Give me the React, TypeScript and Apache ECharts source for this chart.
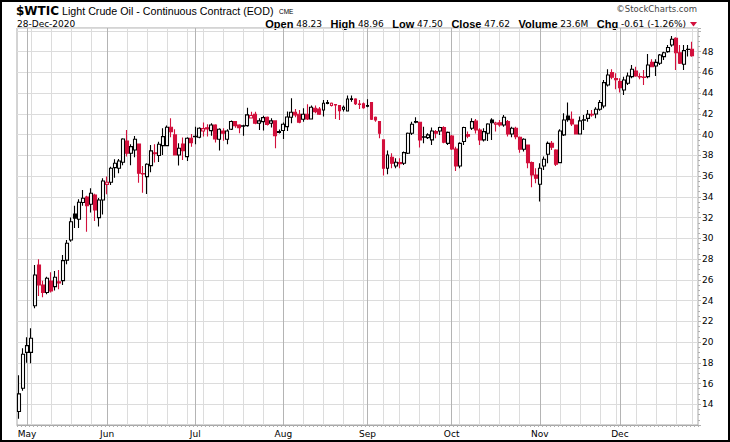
import React, { useEffect, useRef } from "react";
import * as echarts from "echarts";

// ---- calendar ----
const START_DATE = "2020-04-29";
const END_DATE = "2020-12-28";
const HOLIDAYS = ["2020-05-25", "2020-07-03", "2020-09-07", "2020-11-26", "2020-12-25"];
const MONTHS = ["Jan", "Feb", "Mar", "Apr", "May", "Jun", "Jul", "Aug", "Sep", "Oct", "Nov", "Dec"];

// ---- daily OHLC ----
const OPEN = [
  13.3, 15.54, 19.0, 19.0, 23.5, 27.43, 25.5, 24.77, 25.89, 25.34,
  25.8, 25.92, 27.9, 29.84, 32.35, 31.84, 33.45, 33.99, 33.29, 34.18,
  32.0, 33.7, 35.2, 35.4, 36.82, 36.76, 37.33, 39.39, 38.2, 38.52,
  39.1, 36.2, 35.95, 37.01, 38.15, 37.98, 38.94, 38.94, 40.71, 39.97,
  38.04, 39.1, 37.88, 39.65, 39.8, 39.75, 40.35, 40.65, 40.38, 40.93,
  39.55, 40.35, 39.55, 40.52, 41.26, 40.93, 40.8, 40.87, 41.6, 41.95,
  41.09, 41.25, 41.67, 41.09, 41.32, 40.2, 40.39, 40.77, 41.67, 42.15,
  41.96, 41.48, 41.96, 41.51, 42.54, 42.47, 42.38, 43.0, 42.8, 42.9,
  42.8, 42.44, 42.28, 43.4, 43.44, 42.95, 42.96, 42.75, 43.09, 41.67,
  41.25, 39.49, 36.75, 37.82, 36.98, 37.3, 37.24, 38.2, 40.13, 41.2,
  41.19, 39.75, 39.71, 39.49, 40.29, 40.35, 40.68, 39.16, 39.87, 38.62,
  36.98, 39.33, 40.0, 40.61, 41.3, 40.45, 39.49, 40.13, 41.41, 41.0,
  41.15, 40.93, 41.25, 40.06, 40.61, 39.74, 38.59, 39.0, 37.3, 36.11,
  35.21, 36.98, 38.1, 39.16, 38.52, 37.3, 39.97, 41.8, 41.48, 40.93,
  40.06, 41.38, 41.57, 41.95, 41.99, 42.44, 42.76, 44.79, 45.98, 45.4,
  45.11, 44.3, 44.95, 45.59, 46.14, 45.6, 45.55, 45.59, 46.97, 46.62,
  46.88, 47.52, 48.0, 48.64, 49.29, 47.9, 46.78, 48.2, 48.23,
];
const HIGH = [
  16.8, 19.4, 20.46, 21.33, 27.43, 27.98, 25.9, 26.3, 26.73, 26.86,
  26.95, 28.4, 29.84, 32.0, 33.15, 33.77, 34.66, 34.1, 34.83, 34.3,
  33.9, 35.79, 35.95, 36.9, 37.63, 37.66, 39.65, 40.45, 39.07, 39.87,
  39.15, 36.98, 37.25, 39.0, 39.07, 39.3, 40.61, 40.87, 41.58, 40.52,
  39.17, 39.71, 39.75, 40.07, 40.77, 40.7, 41.16, 41.0, 41.1, 41.0,
  40.61, 40.61, 40.52, 41.35, 41.3, 41.0, 40.95, 42.6, 42.2, 42.2,
  41.58, 41.83, 41.74, 41.58, 41.35, 40.5, 41.16, 42.22, 43.5, 42.47,
  42.38, 42.54, 42.93, 42.8, 42.8, 42.67, 43.34, 43.34, 43.1, 42.95,
  42.86, 42.8, 43.76, 43.76, 43.5, 43.34, 43.1, 43.4, 43.1, 41.74,
  41.3, 39.5, 38.46, 38.2, 37.72, 37.72, 38.36, 40.2, 41.25, 41.67,
  41.25, 40.77, 40.13, 40.68, 40.45, 40.77, 40.8, 40.3, 39.97, 38.84,
  39.26, 40.77, 40.29, 41.58, 41.5, 40.61, 40.61, 41.09, 41.57, 41.25,
  41.41, 41.9, 41.41, 40.77, 40.77, 39.81, 39.65, 39.05, 37.4, 36.75,
  37.24, 37.88, 39.33, 39.39, 38.59, 40.51, 42.06, 43.09, 42.22, 40.95,
  41.74, 41.9, 42.38, 42.38, 42.64, 43.34, 45.27, 46.3, 46.3, 45.91,
  45.43, 45.59, 45.98, 46.71, 46.55, 45.91, 46.23, 47.78, 47.26, 47.26,
  47.78, 48.0, 48.64, 49.51, 49.38, 48.64, 48.64, 48.64, 48.96,
];
const LOW = [
  12.6, 15.3, 18.0, 17.95, 23.26, 24.44, 24.32, 24.6, 24.77, 24.96,
  25.1, 25.5, 27.5, 29.68, 31.0, 31.0, 33.15, 30.64, 32.5, 31.68,
  31.13, 32.3, 34.25, 35.15, 35.85, 36.27, 37.04, 37.88, 37.04, 37.82,
  35.37, 34.4, 34.28, 36.37, 37.3, 37.36, 38.04, 38.9, 39.75, 38.0,
  37.01, 37.56, 37.46, 38.84, 39.07, 39.65, 39.81, 39.81, 39.9, 39.23,
  38.46, 39.42, 39.07, 40.45, 40.67, 40.13, 39.9, 40.75, 41.55, 41.0,
  40.45, 40.39, 40.87, 40.68, 38.68, 40.1, 39.58, 40.35, 41.09, 41.67,
  41.09, 41.25, 41.42, 41.45, 42.06, 41.9, 41.74, 42.93, 42.7, 41.5,
  41.42, 42.22, 42.22, 43.18, 42.86, 42.48, 42.5, 42.64, 41.42, 41.25,
  39.65, 36.05, 36.18, 36.75, 36.75, 36.75, 37.08, 38.14, 39.97, 41.09,
  38.75, 39.16, 39.58, 39.0, 39.65, 39.97, 39.16, 39.0, 38.52, 36.5,
  36.75, 39.0, 39.65, 40.45, 40.1, 39.0, 39.33, 39.39, 39.49, 40.29,
  40.77, 40.77, 39.81, 39.74, 39.55, 38.26, 38.36, 36.75, 34.92, 35.31,
  33.54, 36.59, 37.24, 38.52, 36.98, 37.24, 39.87, 41.25, 40.84, 40.03,
  40.0, 40.45, 41.25, 41.73, 41.57, 42.3, 42.54, 44.63, 45.33, 44.37,
  44.05, 43.82, 44.79, 45.43, 45.59, 45.33, 44.79, 45.43, 46.49, 45.65,
  46.71, 47.2, 47.9, 48.48, 46.23, 46.81, 46.23, 47.52, 47.5,
];
const CLOSE = [
  15.0, 18.82, 19.65, 20.36, 26.47, 25.5, 24.77, 26.15, 24.93, 26.25,
  25.7, 27.85, 29.53, 31.6, 31.95, 33.48, 33.86, 33.15, 34.35, 32.74,
  33.7, 35.53, 35.4, 36.76, 37.24, 37.46, 39.58, 38.2, 38.84, 39.55,
  36.27, 36.25, 37.14, 38.43, 38.25, 39.07, 39.81, 40.71, 40.29, 38.04,
  38.68, 38.46, 39.65, 39.23, 39.84, 40.61, 40.58, 40.55, 40.93, 39.58,
  40.52, 40.13, 40.35, 41.26, 40.87, 40.67, 40.85, 41.9, 41.85, 41.1,
  41.32, 41.64, 40.99, 41.32, 39.9, 40.29, 41.0, 41.7, 42.15, 41.9,
  41.19, 41.96, 41.51, 42.64, 42.22, 41.96, 43.02, 43.1, 43.02, 42.85,
  42.31, 42.64, 43.44, 43.45, 42.99, 42.9, 42.6, 42.8, 41.48, 41.42,
  40.13, 36.75, 38.04, 37.24, 37.33, 37.2, 38.26, 40.13, 41.0, 41.25,
  39.49, 39.8, 39.97, 40.35, 40.13, 40.68, 39.26, 40.22, 38.62, 36.98,
  39.16, 40.68, 39.85, 41.25, 40.45, 39.49, 40.29, 41.03, 41.15, 41.12,
  40.93, 41.67, 40.06, 40.61, 39.81, 38.59, 39.55, 37.3, 36.11, 35.79,
  36.75, 37.62, 39.16, 38.78, 37.14, 40.35, 41.41, 41.45, 41.03, 40.06,
  41.32, 41.42, 41.96, 41.9, 42.44, 43.09, 45.01, 45.75, 45.53, 45.3,
  44.53, 45.27, 45.65, 46.3, 45.65, 45.55, 45.5, 46.71, 46.55, 46.97,
  47.68, 47.9, 48.4, 49.2, 47.9, 46.88, 48.1, 48.23, 47.62,
];
const LAST_VOLUME = "23.6M";

// ---- axis ----
const Y_MIN = 12;
const Y_MAX = 50.28;
const Y_STEP = 2;
const Y_LABELS = [14, 16, 18, 20, 22, 24, 26, 28, 30, 32, 34, 36, 38, 40, 42, 44, 46, 48];

const BLACK = "#000000";
const RED = "#d2103c";

function tradingDays(): string[] {
  const out: string[] = [];
  let t = Date.parse(START_DATE + "T00:00:00Z");
  const end = Date.parse(END_DATE + "T00:00:00Z");
  while (t <= end) {
    const d = new Date(t);
    const s = d.toISOString().slice(0, 10);
    const dow = d.getUTCDay();
    if (dow !== 0 && dow !== 6 && HOLIDAYS.indexOf(s) < 0) out.push(s);
    t += 86400000;
  }
  return out;
}

export default function App() {
  const ref = useRef<HTMLDivElement>(null);

  useEffect(() => {
    if (!ref.current) return;
    const chart = echarts.init(ref.current, null, { renderer: "svg" });

    const dates = tradingDays();
    const n = dates.length;
    const cats = [...dates, ""];
    const slots = cats.length;
    const weekStart = new Set<number>();
    const monthStart = new Set<number>();
    for (let i = 1; i < n; i++) {
      const a = new Date(dates[i - 1] + "T00:00:00Z");
      const b = new Date(dates[i] + "T00:00:00Z");
      if (b.getUTCDay() <= a.getUTCDay() || (b.getTime() - a.getTime()) / 86400000 >= 7) weekStart.add(i);
      if (b.getUTCMonth() !== a.getUTCMonth()) monthStart.add(i);
    }
    const half = Array.from({ length: slots * 2 + 1 }, (_, j) => String(j));

    const data = [];
    for (let i = 0; i < n; i++) {
      const o = OPEN[i], c = CLOSE[i], l = LOW[i], h = HIGH[i];
      const col = i === 0 || c >= CLOSE[i - 1] ? BLACK : RED;
      const hollow = c > o;
      data.push({
        value: [o, c, l, h],
        itemStyle: {
          color: hollow ? "#ffffff" : col,
          color0: hollow ? "#ffffff" : col,
          borderColor: col,
          borderColor0: col,
          borderColorDoji: col,
          borderWidth: 1.1,
        },
      });
    }

    const li = n - 1;
    const chg = CLOSE[li] - CLOSE[li - 1];
    const pct = (chg / CLOSE[li - 1]) * 100;
    const lastDate = new Date(dates[li] + "T00:00:00Z");
    const dateText =
      String(lastDate.getUTCDate()).padStart(2, "0") + "-" + MONTHS[lastDate.getUTCMonth()] + "-" + lastDate.getUTCFullYear();
    const f2 = (v: number) => v.toFixed(2);
    const quote =
      "{b|Open} {v|" + f2(OPEN[li]) + "}   {b|High} {v|" + f2(HIGH[li]) + "}   {b|Low} {v|" + f2(LOW[li]) +
      "}   {b|Close} {v|" + f2(CLOSE[li]) + "}   {b|Volume} {v|" + LAST_VOLUME + "}   {b|Chg} {v|" +
      f2(chg) + " (" + f2(pct) + "%)}";

    const gridAxis = (set: Set<number>, color: string) => ({
      type: "category",
      data: half,
      boundaryGap: false,
      position: "bottom",
      axisLine: { show: false },
      axisTick: { show: false },
      axisLabel: { show: false },
      splitLine: {
        show: true,
        interval: (j: number) => j % 2 === 1 && set.has((j - 1) / 2),
        lineStyle: { color, width: 1 },
      },
    });

    chart.setOption({
      animation: false,
      backgroundColor: "#ffffff",
      grid: {
        left: 17,
        right: 32,
        top: 28,
        bottom: 17,
        show: true,
        borderColor: "#a8a8a8",
        borderWidth: 1,
        backgroundColor: "#ffffff",
      },
      xAxis: [
        {
          type: "category",
          data: cats,
          boundaryGap: true,
          position: "bottom",
          axisLine: { show: true, lineStyle: { color: "#a8a8a8" } },
          axisTick: { show: true, interval: 0, length: 2, lineStyle: { color: "#b0b0b0" } },
          axisLabel: {
            interval: (i: number) => monthStart.has(i),
            formatter: (v: string) => (v ? MONTHS[parseInt(v.slice(5, 7), 10) - 1] : ""),
            margin: 4,
            fontSize: 9,
            fontFamily: "DejaVu Sans",
            color: "#000",
          },
          splitLine: { show: false },
        },
        gridAxis(weekStart, "#dcdcdc"),
        gridAxis(monthStart, "#b4b4b4"),
      ],
      yAxis: {
        type: "value",
        position: "right",
        min: Y_MIN,
        max: Y_MAX,
        interval: Y_STEP,
        axisLine: { show: false },
        axisTick: { show: true, length: 3, lineStyle: { color: "#b0b0b0" } },
        minorTick: { show: true, splitNumber: 4, length: 2, lineStyle: { color: "#b0b0b0" } },
        axisLabel: {
          formatter: (v: number) => (Y_LABELS.indexOf(Math.round(v * 100) / 100) >= 0 ? String(v) : ""),
          margin: 4,
          fontSize: 9,
          fontFamily: "DejaVu Sans",
          color: "#000",
        },
        splitLine: { show: true, lineStyle: { color: "#dcdcdc", width: 1 } },
      },
      series: [
        {
          type: "candlestick",
          xAxisIndex: 0,
          yAxisIndex: 0,
          barWidth: 3.4,
          data,
        },
      ],
      graphic: [
        {
          type: "rect",
          shape: { x: 1, y: 1, width: 728, height: 440 },
          style: { fill: "none", stroke: "#000", lineWidth: 2 },
          silent: true,
        },
        {
          type: "text",
          x: 16,
          y: 10.5,
          style: { text: "$WTIC", fontFamily: "DejaVu Sans", fontWeight: "bold", fontSize: 12, fill: "#000", verticalAlign: "middle" },
        },
        {
          type: "text",
          x: 62,
          y: 10.5,
          style: { text: "Light Crude Oil - Continuous Contract (EOD)", fontFamily: "Liberation Sans", fontSize: 10.7, fill: "#000", verticalAlign: "middle" },
        },
        {
          type: "text",
          x: 279,
          y: 11,
          style: { text: "CME", fontFamily: "Liberation Sans", fontSize: 6.5, fill: "#000", verticalAlign: "middle" },
        },
        {
          type: "text",
          x: 17,
          y: 23.5,
          style: { text: dateText, fontFamily: "DejaVu Sans", fontSize: 9, fill: "#000", verticalAlign: "middle" },
        },
        {
          type: "text",
          x: 686,
          y: 23.5,
          style: {
            text: quote,
            fontFamily: "DejaVu Sans",
            fontSize: 9,
            fill: "#000",
            align: "right",
            verticalAlign: "middle",
            rich: {
              b: { fontFamily: "Liberation Sans", fontWeight: "bold", fontSize: 11, fill: "#000" },
              v: { fontFamily: "DejaVu Sans", fontSize: 9, fill: "#000" },
            },
          },
        },
        {
          type: "polygon",
          shape: { points: [[690, 22], [697, 22], [693.5, 26.5]] },
          style: { fill: RED },
        },
        {
          type: "text",
          x: 697,
          y: 9,
          style: { text: "\u00a9StockCharts.com", fontFamily: "DejaVu Sans", fontSize: 8.5, fill: "#444", align: "right", verticalAlign: "middle" },
        },
      ],
    });

    return () => chart.dispose();
  }, []);

  return (
    <div
      ref={ref}
      style={{ position: "absolute", left: 0, top: 0, width: 730, height: 442, background: "#fff" }}
    />
  );
}
